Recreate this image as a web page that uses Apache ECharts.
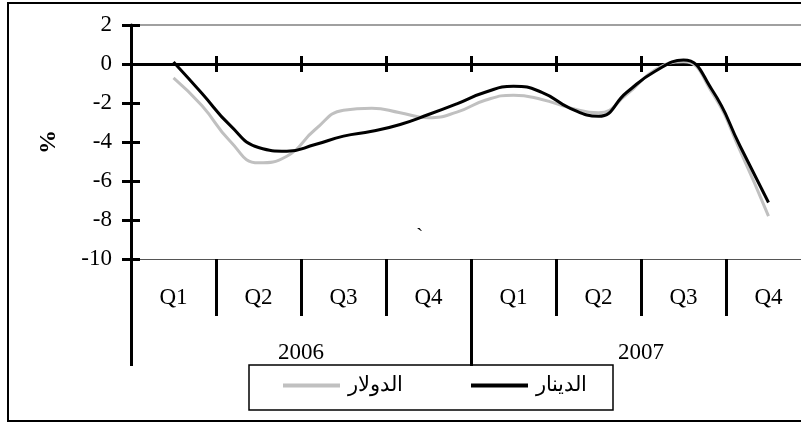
<!DOCTYPE html>
<html><head><meta charset="utf-8">
<script src="https://cdn.jsdelivr.net/npm/echarts@6/dist/echarts.min.js"></script>
<style>html,body{margin:0;padding:0;background:#fff;overflow:hidden}#c{width:812px;height:423px}</style>
</head><body><div id="c"></div>
<script>
var months = ['2006-01','2006-02','2006-03','2006-04','2006-05','2006-06','2006-07','2006-08','2006-09','2006-10','2006-11','2006-12',
              '2007-01','2007-02','2007-03','2007-04','2007-05','2007-06','2007-07','2007-08','2007-09','2007-10','2007-11','2007-12'];
var quarters = ['Q1','Q2','Q3','Q4','Q1','Q2','Q3','Q4'];
var years = ['2006','2007'];
var dollar = [null,-0.71,-2.13,-3.96,-5.07,-4.73,-3.36,-2.37,-2.27,-2.5,-2.76,-2.47,-1.86,-1.6,-1.82,-2.25,-2.5,-1.56,-0.3,0.12,-1.45,-4.45,-7.8,null];
var dinar  = [null,0.1,-1.5,-3.15,-4.28,-4.47,-4.13,-3.7,-3.45,-3.1,-2.59,-2.04,-1.45,-1.14,-1.45,-2.27,-2.68,-1.45,-0.37,0.2,-1.31,-4.22,-7.1,null];
var seriesNames = ['الدولار','الدينار'];
var yTicks = [-10,-8,-6,-4,-2,0,2];

var FONT = "'Liberation Serif','Times New Roman',serif";
var chart = echarts.init(document.getElementById('c'), null, {renderer:'canvas'});
chart.setOption({
  animation:false,
  backgroundColor:'#fff',
  grid:{left:131, top:25, right:1, bottom:164, containLabel:false},
  legend:{
    data:seriesNames, left:283, top:375, padding:0, icon:'rect', itemWidth:57, itemHeight:4, itemGap:68,
    textStyle:{fontFamily:FONT, fontSize:21, color:'#000', padding:[0,0,0,3]}
  },
  xAxis:[
    {type:'category', data:months, show:false, position:'bottom', boundaryGap:true},
    {type:'category', data:quarters, position:'top', boundaryGap:true,
      axisLine:{show:true, onZero:true, onZeroAxisIndex:0, lineStyle:{color:'#000', width:3}},
      axisTick:{show:true, inside:false, length:8, interval:0, lineStyle:{color:'#000', width:3}},
      axisLabel:{show:false}, splitLine:{show:false}},
    {type:'category', data:quarters, position:'bottom', boundaryGap:true,
      axisLine:{show:true, onZero:true, onZeroAxisIndex:0, lineStyle:{color:'#000', width:3}},
      axisTick:{show:true, inside:false, length:8, interval:0, lineStyle:{color:'#000', width:3}},
      axisLabel:{show:false}, splitLine:{show:false}},
    {type:'category', data:quarters, position:'bottom', boundaryGap:true,
      axisLine:{show:true, onZero:false, lineStyle:{color:'#555', width:1}},
      axisTick:{show:true, inside:false, length:57, interval:0, lineStyle:{color:'#000', width:3}},
      axisLabel:{show:true, interval:0, margin:27, fontFamily:FONT, fontSize:23, color:'#000'},
      splitLine:{show:false}},
    {type:'category', data:years, position:'bottom', boundaryGap:true,
      axisLine:{show:false, onZero:false},
      axisTick:{show:true, inside:false, length:107, interval:0, lineStyle:{color:'#000', width:3}},
      axisLabel:{show:true, interval:0, margin:82, fontFamily:FONT, fontSize:23, color:'#000'},
      splitLine:{show:false}}
  ],
  yAxis:[
    {type:'value', min:-10, max:2, interval:2, position:'left',
      name:'%', nameLocation:'middle', nameGap:70, nameRotate:90,
      nameTextStyle:{fontFamily:FONT, fontSize:24, fontWeight:'bold', color:'#000'},
      axisLine:{show:true, onZero:false, lineStyle:{color:'#000', width:3}},
      axisTick:{show:true, inside:false, length:9, lineStyle:{color:'#000', width:3}},
      axisLabel:{show:true, margin:19, fontFamily:FONT, fontSize:23, color:'#000'},
      splitLine:{show:true, lineStyle:{width:1.5, color:['rgba(0,0,0,0)','rgba(0,0,0,0)','rgba(0,0,0,0)','rgba(0,0,0,0)','rgba(0,0,0,0)','rgba(0,0,0,0)','#808080']}}},
    {type:'value', min:-10, max:2, interval:2, position:'left',
      axisLine:{show:false, onZero:false},
      axisTick:{show:true, inside:true, length:9, lineStyle:{color:'#000', width:3}},
      axisLabel:{show:false}, splitLine:{show:false}}
  ],
  graphic:[
    {type:'rect', shape:{x:8, y:3, width:820, height:418}, style:{fill:'none', stroke:'#000', lineWidth:2}, silent:true, z:100},
    {type:'rect', shape:{x:249, y:365, width:364, height:45}, style:{fill:'#fff', stroke:'#000', lineWidth:1.5}, silent:true, z:-1},
    {type:'text', x:416, y:226, style:{text:'`', font:"22px 'Liberation Serif'", fill:'#000'}, silent:true}
  ],
  series:[
    {name:seriesNames[0], type:'line', xAxisIndex:0, yAxisIndex:0, data:dollar, smooth:0.5, symbol:'none', connectNulls:false,
      lineStyle:{color:'#c0c0c0', width:3}, itemStyle:{color:'#c0c0c0'}, z:3},
    {name:seriesNames[1], type:'line', xAxisIndex:0, yAxisIndex:0, data:dinar, smooth:0.5, symbol:'none', connectNulls:false,
      lineStyle:{color:'#000', width:3}, itemStyle:{color:'#000'}, z:4}
  ]
});
</script></body></html>
